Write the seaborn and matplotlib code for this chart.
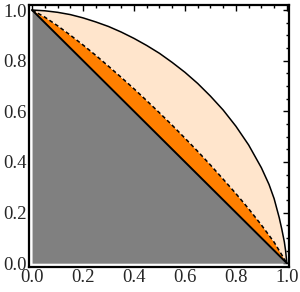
import numpy as np
import matplotlib
matplotlib.use("Agg")
import matplotlib.pyplot as plt
import seaborn as sns
from matplotlib.ticker import MultipleLocator

# outer arc (solid black curve)
arc_x = [0.0, 0.05, 0.1, 0.15, 0.2, 0.25, 0.3, 0.35, 0.4, 0.45, 0.5, 0.55, 0.6, 0.65,
         0.7, 0.75, 0.8, 0.85, 0.9, 0.93, 0.95, 0.97, 0.98, 0.99, 0.995, 1.0]
arc_y = [1.0, 0.997, 0.991, 0.982, 0.969, 0.953, 0.935, 0.913, 0.888, 0.860, 0.829, 0.793,
         0.754, 0.710, 0.660, 0.605, 0.541, 0.467, 0.377, 0.311, 0.255, 0.180, 0.135, 0.085,
         0.050, 0.0]

# dashed curve just above the diagonal
dash_x = [0.0, 0.05, 0.1, 0.15, 0.2, 0.25, 0.3, 0.35, 0.4, 0.45, 0.5, 0.55, 0.6, 0.65,
          0.7, 0.75, 0.8, 0.85, 0.9, 0.95, 1.0]
dash_y = [1.0, 0.972, 0.938, 0.901, 0.862, 0.821, 0.778, 0.734, 0.689, 0.642, 0.594, 0.545,
          0.494, 0.442, 0.388, 0.332, 0.275, 0.215, 0.151, 0.083, 0.0]

# straight diagonal
diag_x = [0.0, 1.0]
diag_y = [1.0, 0.0]

sns.set_style("white")
plt.rcParams['font.family'] = ['Liberation Serif', 'DejaVu Serif']

fig = plt.figure(figsize=(3.0, 2.92), dpi=100)
ax = fig.add_axes([0.0967, 0.0856, 0.8663, 0.8974])

dx = np.array(dash_x)
dy = np.array(dash_y)
ax.fill_between(diag_x, 0, diag_y, color="#808080", lw=0)
ax.fill_between(dx, 1 - dx, dy, color="#FF7F00", lw=0)
ax.fill(np.concatenate([arc_x, dx[::-1]]), np.concatenate([arc_y, dy[::-1]]),
        color="#FFE5CC", lw=0)

sns.lineplot(x=arc_x, y=arc_y, sort=False, color="black", lw=1.1, ax=ax)
sns.lineplot(x=dash_x, y=dash_y, sort=False, color="black", lw=1.1, ax=ax,
             linestyle=(0, (2.6, 1.8)))
sns.lineplot(x=diag_x, y=diag_y, sort=False, color="black", lw=1.4, ax=ax)

ax.set_xlim(-0.012, 1.008)
ax.set_ylim(-0.015, 1.02)
ax.xaxis.set_major_locator(MultipleLocator(0.2))
ax.yaxis.set_major_locator(MultipleLocator(0.2))
ax.xaxis.set_minor_locator(MultipleLocator(0.05))
ax.yaxis.set_minor_locator(MultipleLocator(0.05))
ax.xaxis.set_major_formatter(matplotlib.ticker.FormatStrFormatter('%.1f'))
ax.yaxis.set_major_formatter(matplotlib.ticker.FormatStrFormatter('%.1f'))
ax.tick_params(which="both", direction="in", top=True, right=True, color="black",
               width=1.0, labelsize=13.5, pad=1.5)
ax.tick_params(which="major", length=4)
ax.tick_params(which="minor", length=2)
for s in ax.spines.values():
    s.set_visible(True)
    s.set_color("black")
    s.set_linewidth(1.6)

fig.savefig("out.png", dpi=100)
